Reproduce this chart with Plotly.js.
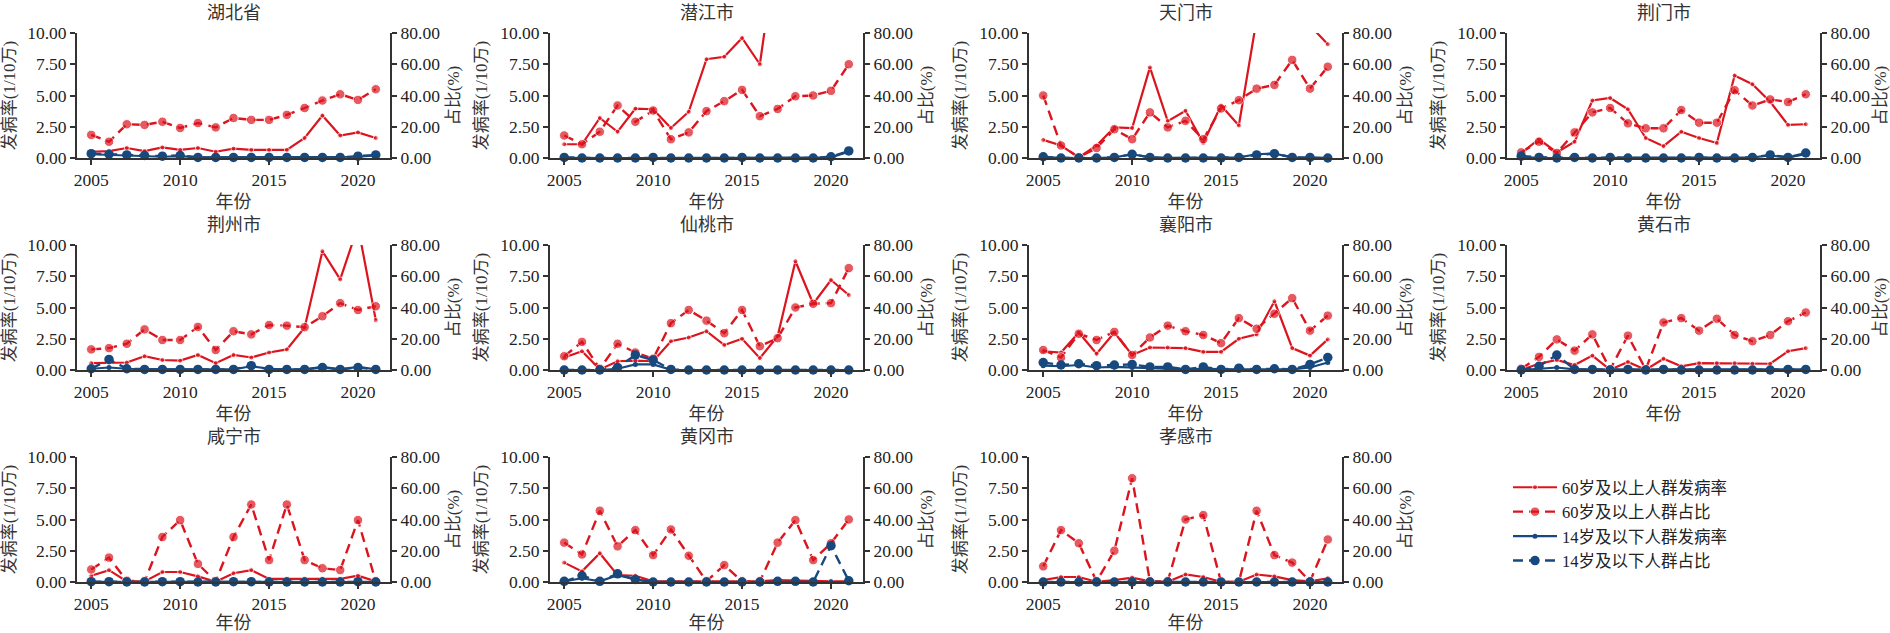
<!DOCTYPE html>
<html>
<head>
<meta charset="utf-8">
<script src="https://cdn.plot.ly/plotly-3.0.1.min.js"></script>
<style>body{margin:0;background:#fff}</style>
</head>
<body>
<div id="plotly" style="width:1890px;height:633px"></div>
<script>
var years = [2005,2006,2007,2008,2009,2010,2011,2012,2013,2014,2015,2016,2017,2018,2019,2020,2021];
var cities = ['湖北省','潜江市','天门市','荆门市','荆州市','仙桃市','襄阳市','黄石市','咸宁市','黄冈市','孝感市'];
var seriesNames = ['60岁及以上人群发病率','60岁及以上人群占比','14岁及以下人群发病率','14岁及以下人群占比'];

// r60 = 60岁及以上发病率 (1/10万), p60 = 60岁及以上占比 (%)
// r14 = 14岁及以下发病率, p14 = 14岁及以下占比
var r60_hubei = [0.5,0.55,0.8,0.55,0.85,0.65,0.8,0.5,0.75,0.65,0.65,0.65,1.6,3.4,1.8,2.05,1.6];
var p60_hubei = [14.8,10.4,21.6,21.2,23.2,19.2,22.4,19.6,25.6,24.4,24.4,27.6,32,36.8,40.8,37.2,44];
var r14_hubei = [0.3,0.25,0.25,0.15,0.1,0.15,0.05,0.05,0.05,0.05,0.05,0.05,0.05,0.05,0.05,0.1,0.2];
var p14_hubei = [2.8,2.4,2,1.6,1.2,1.6,0.4,0.4,0.4,0.4,0.4,0.4,0.4,0.4,0.4,1.2,2];

var r60_qianjiang = [1.1,1.1,3.2,2.1,3.95,3.9,2.4,3.7,7.9,8.1,9.6,7.5,17.5,16,15,14,18];
var p60_qianjiang = [14.4,8.8,16.8,33.6,23.2,30.4,12,16.4,30,36.4,43.6,26.8,31.4,39.5,40,43,60];
var r14_qianjiang = [0.02,0,0,0,0,0.02,0,0,0,0,0.02,0,0,0,0,0.05,0.5];
var p14_qianjiang = [0.4,0,0,0,0,0.4,0,0,0,0,0.4,0,0,0,0,0.8,4.5];

var r60_tianmen = [1.45,1.0,0.05,1.0,2.45,2.4,7.25,2.95,3.78,1.2,4.2,2.6,11.1,14,13,10.6,9.1];
var p60_tianmen = [40,8,0.4,6.4,18.4,12,29.2,19.6,23.8,12,31.7,37,44.4,46.8,62.8,44.4,58.4];
var r14_tianmen = [0.05,0,0,0,0.05,0.3,0.05,0,0,0,0,0.05,0.3,0.35,0.05,0.05,0];
var p14_tianmen = [0.8,0,0,0,0.4,2.4,0.4,0,0,0,0,0.4,2,2.8,0.4,0.4,0];

var r60_jingmen = [0.4,1.5,0.45,1.3,4.6,4.8,3.9,1.6,0.95,2.1,1.6,1.2,6.6,5.9,4.5,2.65,2.7];
var p60_jingmen = [3.6,10.4,3.2,16.4,29.2,32,22.2,19,19,30.7,22.6,22.6,43.4,33.6,37.5,35.8,40.8];
var r14_jingmen = [0.1,0,0,0,0,0.05,0,0,0,0,0.05,0,0,0.05,0.2,0.05,0.3];
var p14_jingmen = [1.2,0.4,0,0.4,0,0.4,0,0,0,0,0.4,0,0,0.4,2,0.4,3.2];

var r60_jingzhou = [0.55,0.6,0.6,1.1,0.8,0.75,1.2,0.55,1.2,1.0,1.4,1.65,3.4,9.5,7.25,11.5,4.0];
var p60_jingzhou = [13.2,14,16.8,26,19.2,19.2,27.6,12.8,24.8,22.8,28.8,28.4,27.4,34.4,42.8,38.4,40.8];
var r14_jingzhou = [0.1,0.2,0.1,0.05,0.05,0.05,0.05,0.05,0.05,0.3,0.1,0.05,0.05,0.25,0.05,0.25,0.05];
var p14_jingzhou = [0.8,6.8,0.8,0.4,0.4,0.4,0.4,0.4,0.4,2.8,0.4,0.4,0.4,1.6,0.4,1.6,0.4];

var r60_xiantao = [1.0,1.5,0.05,0.7,0.75,0.7,2.3,2.6,3.1,2.0,2.5,0.95,2.7,8.7,5.3,7.2,6.0];
var p60_xiantao = [8.8,18,0.8,16.8,11.2,7.2,30,38.4,31.6,23.6,38.4,15.2,20.4,40,42.4,42.8,65.2];
var r14_xiantao = [0,0,0,0.1,0.45,0.45,0.02,0,0,0,0,0,0,0,0,0,0];
var p14_xiantao = [0,0,0,1.6,9.6,6.4,0.4,0,0,0,0,0,0,0,0,0,0];

var r60_xiangyang = [1.5,1.4,3.0,1.3,3.0,1.2,1.8,1.8,1.75,1.45,1.45,2.5,2.85,5.5,1.75,1.15,2.45];
var p60_xiangyang = [12.8,8,23.2,19.2,24.4,9.6,20.8,28.4,24.8,22.4,17.2,33.2,26.4,36,46,25.2,34.8];
var r14_xiangyang = [0.35,0.3,0.4,0.2,0.25,0.2,0.1,0.1,0.05,0.1,0.05,0.05,0.05,0.05,0.05,0.2,0.6];
var p14_xiangyang = [4.8,3.2,4,2.8,3.2,3.6,2,2,0.4,2,0.4,1.2,0.4,0.8,0.4,3.6,8];

var r60_huangshi = [0.02,0.5,0.8,0.4,1.15,0.02,0.65,0.02,0.9,0.3,0.55,0.55,0.55,0.5,0.5,1.5,1.75];
var p60_huangshi = [0.8,8.4,19.6,12.4,22.8,0.4,22,0.4,30.4,33.2,25.2,32.8,22.4,18.4,22.4,31.2,36.8];
var r14_huangshi = [0,0.1,0.2,0.05,0.05,0,0.05,0,0.05,0,0,0,0,0,0,0.05,0.05];
var p14_huangshi = [0,2.4,9.6,0.4,0.4,0,0.4,0,0.4,0,0,0,0,0,0,0.4,0.4];

var r60_xianning = [0.5,0.95,0.05,0.05,0.8,0.8,0.45,0.02,0.7,0.95,0.25,0.25,0.25,0.25,0.25,0.5,0.05];
var p60_xianning = [8,15.6,0.8,0.4,28.8,39.6,11.6,0.4,28.8,49.6,14,49.6,14,8.8,7.6,39.6,0.4];
var r14_xianning = [0.02,0.02,0,0,0.02,0.02,0,0,0.02,0.02,0,0,0,0,0,0.02,0];
var p14_xianning = [0.2,0.2,0,0,0.2,0.2,0,0,0.2,0.2,0,0,0,0,0,0.2,0];

var r60_huanggang = [1.55,0.85,2.3,0.55,0.5,0.05,0.05,0.05,0.05,0.05,0.05,0.05,0.15,0.1,0.05,0.05,0.05];
var p60_huanggang = [25.2,17.6,45.6,22.8,33.2,17.2,33.6,16.8,0.4,10.8,0.4,0.4,25.2,39.6,14,24.8,40];
var r14_huanggang = [0.05,0.3,0.05,0.55,0.2,0,0,0,0,0,0,0,0.02,0.02,0,0.02,0];
var p14_huanggang = [0.4,4,0.4,5.2,1.6,0,0,0,0,0,0,0,0.4,0.4,0,23.2,0.8];

var r60_xiaogan = [0.15,0.4,0.4,0.02,0.15,0.35,0.05,0.02,0.6,0.4,0.02,0.02,0.6,0.45,0.15,0.05,0.3];
var p60_xiaogan = [10,33.2,24.8,0.4,20,66.4,0.4,0.4,40,42.8,0,0,45.6,17.2,12.4,0.4,27.2];
var r14_xiaogan = [0,0,0,0,0,0,0,0,0,0,0,0,0,0,0,0,0];
var p14_xiaogan = [0,0,0,0,0,0,0,0,0,0,0,0,0,0,0,0,0];

var r60 = [r60_hubei,r60_qianjiang,r60_tianmen,r60_jingmen,r60_jingzhou,r60_xiantao,r60_xiangyang,r60_huangshi,r60_xianning,r60_huanggang,r60_xiaogan];
var p60 = [p60_hubei,p60_qianjiang,p60_tianmen,p60_jingmen,p60_jingzhou,p60_xiantao,p60_xiangyang,p60_huangshi,p60_xianning,p60_huanggang,p60_xiaogan];
var r14 = [r14_hubei,r14_qianjiang,r14_tianmen,r14_jingmen,r14_jingzhou,r14_xiantao,r14_xiangyang,r14_huangshi,r14_xianning,r14_huanggang,r14_xiaogan];
var p14 = [p14_hubei,p14_qianjiang,p14_tianmen,p14_jingmen,p14_jingzhou,p14_xiantao,p14_xiangyang,p14_huangshi,p14_xianning,p14_huanggang,p14_xiaogan];

var W = 1890, H = 633;
var colLeft = [77, 550, 1029, 1507], plotW = 313;
var rowTop = [33, 245, 457], plotH = 125;
var RED = '#dc141e', BLUE = '#17497f';
var FONT = '"Liberation Serif", "Noto Serif CJK SC", "Noto Sans CJK SC", serif';
var CJK = '"Liberation Serif", "Noto Sans CJK SC", sans-serif';

function sizes(vals, ymax, s) {
  // hide markers of points that run off the top of the axis
  return vals.map(function (v) { return v > ymax ? 0 : s; });
}

function plotAll() {
  var traces = [];
  var layout = {
    width: W, height: H,
    margin: {l: 0, r: 0, t: 0, b: 0},
    paper_bgcolor: '#fff', plot_bgcolor: '#fff',
    font: {family: FONT, size: 17, color: '#222'},
    showlegend: true,
    legend: {
      x: 1508 / W, y: 1 - 470 / H, xanchor: 'left', yanchor: 'top',
      font: {family: CJK, size: 16.5, color: '#222'},
      itemwidth: 44, tracegroupgap: 0, bgcolor: 'rgba(0,0,0,0)'
    },
    annotations: []
  };

  for (var i = 0; i < cities.length; i++) {
    var row = Math.floor(i / 4), col = i % 4;
    var xs = i === 0 ? '' : String(i + 1);
    var yl = i === 0 ? '' : String(2 * i + 1);
    var yr = String(2 * i + 2);
    var x0 = colLeft[col], y0 = rowTop[row];

    var axLine = {showline: true, linecolor: '#333', linewidth: 2, ticks: 'outside',
      ticklen: 5, tickwidth: 2, tickcolor: '#333', showgrid: false, zeroline: false,
      tickfont: {family: FONT, size: 17.5, color: '#222'}};

    layout['xaxis' + xs] = Object.assign({}, axLine, {
      domain: [x0 / W, (x0 + plotW) / W], anchor: 'y' + yl,
      range: [2004.2, 2021.8], tickvals: [2005, 2010, 2015, 2020],
      title: {text: '年份', font: {family: CJK, size: 18, color: '#333'}, standoff: 6}
    });
    layout['yaxis' + yl] = Object.assign({}, axLine, {
      domain: [1 - (y0 + plotH) / H, 1 - y0 / H], anchor: 'x' + xs,
      range: [0, 10], tickvals: [0, 2.5, 5, 7.5, 10], tickformat: '.2f',
      title: {text: '发病率(1/10万)', font: {family: CJK, size: 17, color: '#333'}, standoff: 8}
    });
    layout['yaxis' + yr] = Object.assign({}, axLine, {
      overlaying: 'y' + yl, side: 'right', anchor: 'x' + xs,
      range: [0, 80], tickvals: [0, 20, 40, 60, 80], tickformat: '.2f',
      title: {text: '占比(%)', font: {family: CJK, size: 17, color: '#333'}, standoff: 8}
    });

    layout.annotations.push({
      text: cities[i], xref: 'paper', yref: 'paper', showarrow: false,
      x: (x0 + plotW / 2) / W, y: 1 - (y0 - 20) / H, xanchor: 'center', yanchor: 'middle',
      font: {family: CJK, size: 18, color: '#333'}
    });

    var show = i === 0;
    traces.push({x: years, y: r60[i], xaxis: 'x' + xs, yaxis: 'y' + yl, type: 'scatter',
      mode: 'lines+markers', name: seriesNames[0], showlegend: show, legendgroup: 'a', cliponaxis: false,
      line: {color: RED, width: 2.2}, marker: {color: RED, size: sizes(r60[i], 10, 5)}});
    traces.push({x: years, y: p60[i], xaxis: 'x' + xs, yaxis: 'y' + yr, type: 'scatter',
      mode: 'lines+markers', name: seriesNames[1], showlegend: show, legendgroup: 'b', cliponaxis: false,
      line: {color: RED, width: 2.4, dash: '10px,6px'}, marker: {color: RED, size: sizes(p60[i], 80, 9.5)}});
    traces.push({x: years, y: r14[i], xaxis: 'x' + xs, yaxis: 'y' + yl, type: 'scatter',
      mode: 'lines+markers', name: seriesNames[2], showlegend: show, legendgroup: 'c', cliponaxis: false,
      line: {color: BLUE, width: 2.2}, marker: {color: BLUE, size: 5}});
    traces.push({x: years, y: p14[i], xaxis: 'x' + xs, yaxis: 'y' + yr, type: 'scatter',
      mode: 'lines+markers', name: seriesNames[3], showlegend: show, legendgroup: 'd', cliponaxis: false,
      line: {color: BLUE, width: 2.4, dash: '10px,6px'}, marker: {color: BLUE, size: 9.5}});
  }

  Plotly.newPlot('plotly', traces, layout, {staticPlot: true});
}
plotAll();
</script>
</body>
</html>
